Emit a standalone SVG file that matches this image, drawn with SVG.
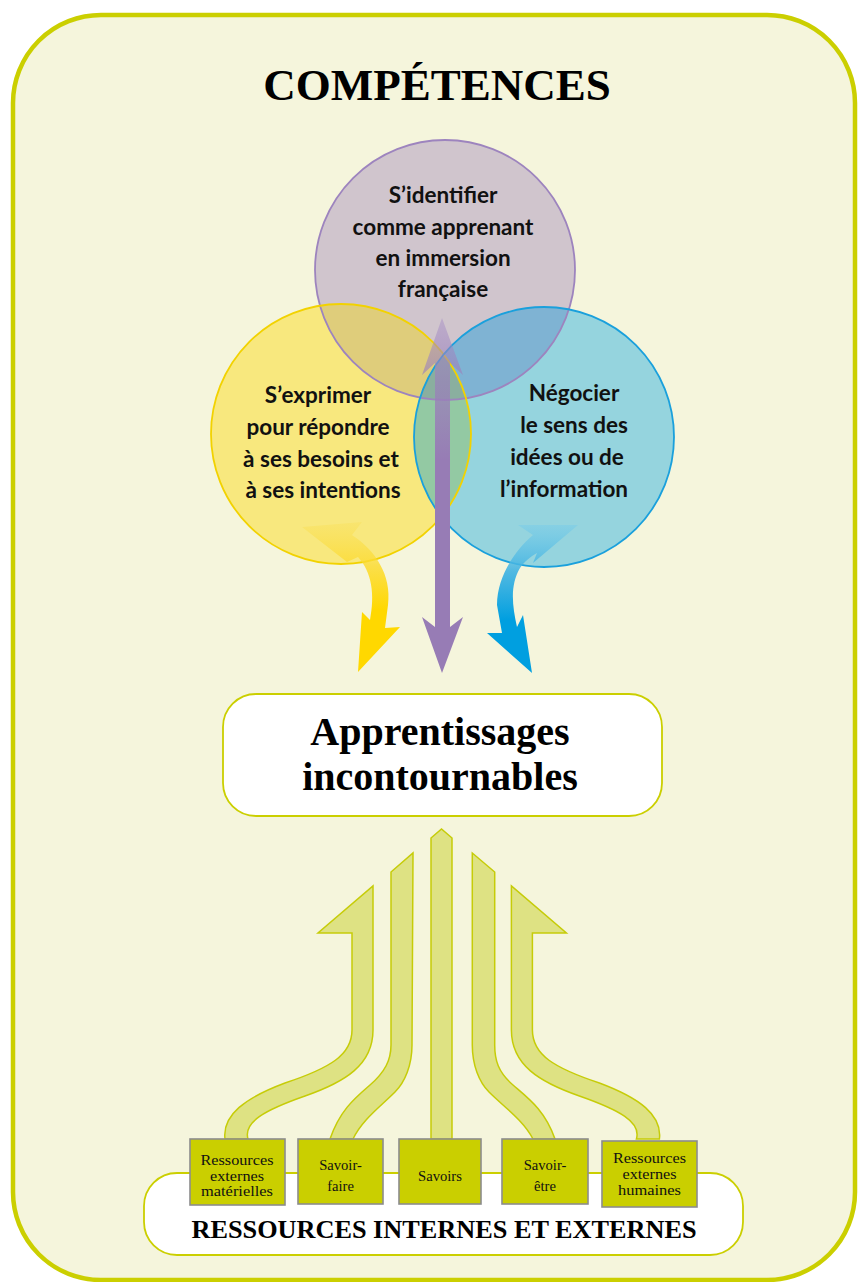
<svg xmlns="http://www.w3.org/2000/svg" width="858" height="1282" viewBox="0 0 858 1282">
<style>
.title{font-family:"Liberation Serif","Times New Roman",serif;font-weight:bold;fill:#000}
.ctext{font-family:Lato,"Open Sans","DejaVu Sans",sans-serif;font-weight:bold;font-size:22.5px;fill:#111;text-anchor:middle}
.btext{font-family:"Liberation Serif","Times New Roman",serif;font-size:14.6px;fill:#111;text-anchor:middle}
.box{fill:#CACF00;stroke:#8c8c8c;stroke-width:1.6}
.uparrow{fill:#DEE283;stroke:#C6CC08;stroke-width:1.5;stroke-linejoin:miter}
</style>
<defs>
<clipPath id="clipP"><circle cx="445" cy="270" r="130"/></clipPath>
<clipPath id="clipY"><circle cx="341" cy="434" r="130"/></clipPath>
<clipPath id="clipB"><circle cx="544" cy="437" r="130"/></clipPath>
<linearGradient id="gPurple" gradientUnits="userSpaceOnUse" x1="0" y1="318" x2="0" y2="460">
<stop offset="0" stop-color="#A58CC6" stop-opacity="0.45"/>
<stop offset="0.45" stop-color="#9A80BA" stop-opacity="0.7"/>
<stop offset="1" stop-color="#977CB5" stop-opacity="1"/>
</linearGradient>
<linearGradient id="gYellow" gradientUnits="userSpaceOnUse" x1="0" y1="522" x2="0" y2="610">
<stop offset="0" stop-color="#F9DF55" stop-opacity="0.35"/>
<stop offset="0.5" stop-color="#FCDB30" stop-opacity="0.85"/>
<stop offset="1" stop-color="#FFD800" stop-opacity="1"/>
</linearGradient>
<linearGradient id="gBlue" gradientUnits="userSpaceOnUse" x1="0" y1="522" x2="0" y2="620">
<stop offset="0" stop-color="#7ACDEA" stop-opacity="0.45"/>
<stop offset="0.5" stop-color="#3FB2E2" stop-opacity="0.9"/>
<stop offset="1" stop-color="#009FE0" stop-opacity="1"/>
</linearGradient>
</defs>

<rect x="0" y="0" width="858" height="1282" fill="#FFFFFF"/>
<g id="frame">
<rect x="13" y="15" width="842" height="1265" rx="88" ry="88" fill="#F5F5DC" stroke="#CBCF00" stroke-width="4.5"/>
</g>

<g id="title">
<text class="title" x="437" y="100" font-size="45" text-anchor="middle">COMPÉTENCES</text>
</g>

<g id="circles-fill">
<circle cx="445" cy="270" r="130" fill="#D0C5CD"/>
<circle cx="341" cy="434" r="130" fill="#F8E87E"/>
<circle cx="544" cy="437" r="130" fill="#95D4DE"/>
<circle cx="341" cy="434" r="130" fill="#DFCD7B" clip-path="url(#clipP)"/>
<circle cx="544" cy="437" r="130" fill="#7FB3D3" clip-path="url(#clipP)"/>
<circle cx="544" cy="437" r="130" fill="#93C9A3" clip-path="url(#clipY)"/>
<g clip-path="url(#clipP)"><circle cx="544" cy="437" r="130" fill="#8AAF9F" clip-path="url(#clipY)"/></g>
</g>

<g id="node-identifier">
<circle cx="445" cy="270" r="130" fill="none" stroke="#9D84BE" stroke-width="1.8"/>
<text class="ctext" x="443" y="203">S’identifier</text>
<text class="ctext" x="443" y="235">comme apprenant</text>
<text class="ctext" x="443" y="266">en immersion</text>
<text class="ctext" x="443" y="297">française</text>
</g>
<g id="node-exprimer">
<circle cx="341" cy="434" r="130" fill="none" stroke="#F2D200" stroke-width="1.8"/>
<text class="ctext" x="318" y="403">S’exprimer</text>
<text class="ctext" x="318" y="435">pour répondre</text>
<text class="ctext" x="321" y="467">à ses besoins et</text>
<text class="ctext" x="323" y="498">à ses intentions</text>
</g>
<g id="node-negocier">
<circle cx="544" cy="437" r="130" fill="none" stroke="#1AA0DC" stroke-width="1.8"/>
<text class="ctext" x="574" y="401">Négocier</text>
<text class="ctext" x="574" y="433">le sens des</text>
<text class="ctext" x="567" y="465">idées ou de</text>
<text class="ctext" x="564" y="497">l’information</text>
</g>

<g id="node-apprentissages">
<rect x="223" y="694" width="439" height="122" rx="33" ry="33" fill="#FFFFFF" stroke="#CBCF00" stroke-width="1.8"/>
<text class="title" x="440" y="745" font-size="40" text-anchor="middle">Apprentissages</text>
<text class="title" x="440" y="790" font-size="40" text-anchor="middle">incontournables</text>
</g>

<g id="node-ressources">
<rect x="144" y="1173" width="599" height="82" rx="33" ry="33" fill="#FFFFFF" stroke="#CBCF00" stroke-width="1.8"/>
<text class="title" x="444" y="1238" font-size="26" text-anchor="middle" textLength="505" lengthAdjust="spacingAndGlyphs">RESSOURCES INTERNES ET EXTERNES</text>
</g>

<g id="connectors">
<path id="arrow-purple" d="M 442 318 L 463 375 L 450 363 L 450 627 L 463 617 L 442 673 L 422 617 L 435 627 L 435 363 L 422 375 Z" fill="url(#gPurple)"/>
<path id="arrow-yellow" d="M 302 527 L 362 522 L 352 535 C 375 550 392 575 388 605 L 385 628 L 400 627 L 358 672 L 362 612 L 370 620 C 375 595 372 572 358 557 L 347 562 Z" fill="url(#gYellow)"/>
<path id="arrow-blue" d="M 578 525 L 518 525 L 533 535 C 515 550 497 577 497 605 L 502 633 L 487 633 L 532 673 L 523 615 L 517 627 C 512 605 510 585 520 568 C 525 561 530 557 537 553 L 533 563 Z" fill="url(#gBlue)"/>
<path class="uparrow" d="M 225 1139 C 222 1115 245 1098 285 1083 C 330 1068 352 1055 352 1030 L 352 933 L 318 933 L 373 886 L 373 1030 C 373 1065 345 1082 305 1096 C 265 1110 243 1122 248 1139 Z"/>
<path class="uparrow" d="M 330 1139 C 340 1110 355 1098 370 1085 C 385 1072 391 1060 391 1045 L 391 872 L 413 853 L 412 1045 C 412 1065 405 1082 395 1092 C 380 1107 362 1120 353 1139 Z"/>
<path class="uparrow" d="M 431 1139 L 431 838 L 441.5 829 L 452 838 L 452 1139 Z"/>
<path class="uparrow" d="M 555 1139 C 545 1110 528 1098 513 1085 C 498 1072 494.7 1060 494.7 1045 L 494.7 872 L 472.3 853 L 472.3 1045 C 472.3 1065 479 1082 489 1092 C 504 1107 523 1120 533 1139 Z"/>
<path class="uparrow" d="M 659.4 1139 C 662.4 1115 639.4 1098 599.4 1083 C 554.4 1068 532.4 1055 532.4 1030 L 532.4 933 L 566.4 933 L 511.4 886 L 511.4 1030 C 511.4 1065 539.4 1082 579.4 1096 C 619.4 1110 641.4 1122 636.4 1139 Z"/>
</g>

<g id="node-materielles">
<rect class="box" x="190" y="1139" width="95" height="66"/>
<text class="btext" x="237" y="1165" textLength="73" lengthAdjust="spacingAndGlyphs">Ressources</text>
<text class="btext" x="237" y="1180.5" textLength="54" lengthAdjust="spacingAndGlyphs">externes</text>
<text class="btext" x="237" y="1196" textLength="72" lengthAdjust="spacingAndGlyphs">matérielles</text>
</g>
<g id="node-savoir-faire">
<rect class="box" x="298" y="1139" width="85" height="65"/>
<text class="btext" x="340.5" y="1170" font-size="17">Savoir-</text>
<text class="btext" x="340.5" y="1191" font-size="17">faire</text>
</g>
<g id="node-savoirs">
<rect class="box" x="399" y="1139" width="82" height="65"/>
<text class="btext" x="440" y="1181" font-size="17">Savoirs</text>
</g>
<g id="node-savoir-etre">
<rect class="box" x="502" y="1139" width="86" height="65"/>
<text class="btext" x="545" y="1170" font-size="17">Savoir-</text>
<text class="btext" x="545" y="1191" font-size="17">être</text>
</g>
<g id="node-humaines">
<rect class="box" x="602" y="1141" width="95" height="66"/>
<text class="btext" x="649.5" y="1163" textLength="73" lengthAdjust="spacingAndGlyphs">Ressources</text>
<text class="btext" x="649.5" y="1179" textLength="54" lengthAdjust="spacingAndGlyphs">externes</text>
<text class="btext" x="649.5" y="1195" textLength="63" lengthAdjust="spacingAndGlyphs">humaines</text>
</g>
</svg>
